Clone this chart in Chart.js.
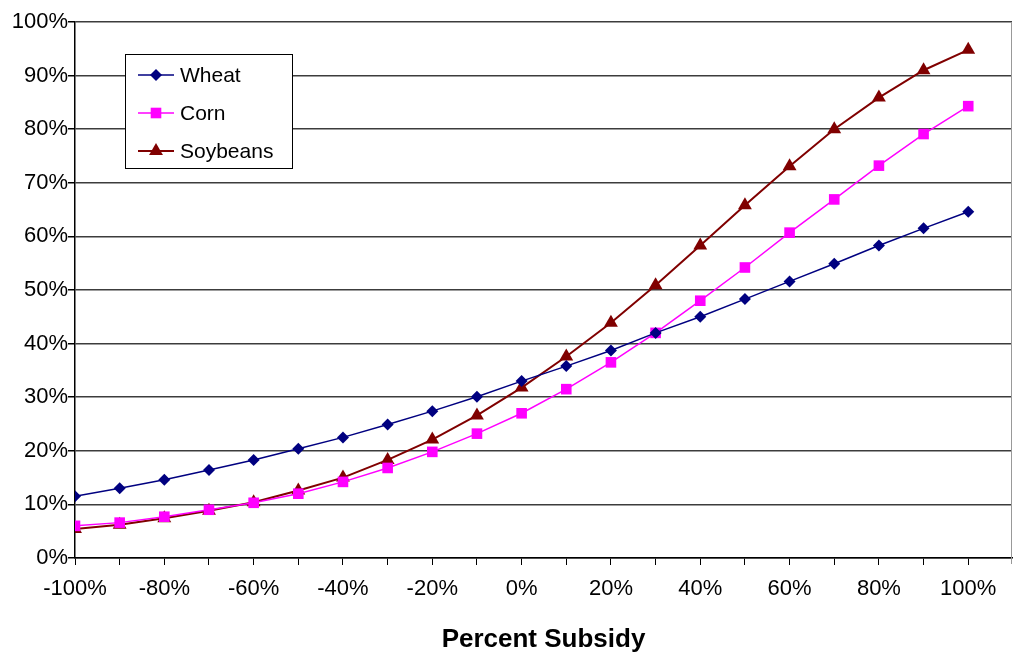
<!DOCTYPE html>
<html lang="en">

<head>
    <meta charset="UTF-8">
    <title>Percent Subsidy</title>
    <script src="https://cdn.jsdelivr.net/npm/chart.js"></script>
    <style>
        body {
            margin: 0;
            padding: 0;
            background-color: #fff;
        }

        .chart-container {
            width: 1013px;
            height: 658px;
        }
    </style>
</head>

<body>
    <div class="chart-container">
        <canvas id="subsidyChart"></canvas>
    </div>

    <script>
        // Data
        const subsidy = [-100, -90, -80, -70, -60, -50, -40, -30, -20, -10, 0, 10, 20, 30, 40, 50, 60, 70, 80, 90, 100];
        const wheat = [11.5, 13.0, 14.6, 16.4, 18.3, 20.4, 22.5, 24.9, 27.4, 30.1, 33.0, 35.8, 38.7, 42.0, 45.0, 48.3, 51.6, 54.9, 58.3, 61.5, 64.6];
        const corn = [6.0, 6.6, 7.7, 9.0, 10.3, 12.0, 14.2, 16.8, 19.8, 23.2, 27.0, 31.5, 36.5, 42.0, 48.0, 54.2, 60.7, 66.9, 73.2, 79.1, 84.3];
        const soybeans = [5.4, 6.2, 7.4, 8.8, 10.4, 12.6, 15.0, 18.3, 22.1, 26.6, 31.8, 37.6, 43.9, 50.9, 58.3, 65.8, 73.1, 80.0, 85.9, 91.0, 94.8];
        const xTicks = [-100, -90, -80, -70, -60, -50, -40, -30, -20, -10, 0, 10, 20, 30, 40, 50, 60, 70, 80, 90, 100];

        const FONT = 'Arial, "Liberation Sans", sans-serif';

        function toPoints(values) {
            return values.map((v, i) => ({ x: subsidy[i], y: v }));
        }

        // Legend box drawn inside the plot, like the original
        const boxLegend = {
            id: 'boxLegend',
            afterDraw(chart) {
                const ctx = chart.ctx;
                const area = chart.chartArea;
                ctx.save();
                // right frame of the plot
                ctx.strokeStyle = '#999';
                ctx.lineWidth = 1;
                ctx.beginPath();
                ctx.moveTo(area.right - 0.5, area.top);
                ctx.lineTo(area.right - 0.5, area.bottom + 6);
                ctx.stroke();

                ctx.fillStyle = '#fff';
                ctx.fillRect(125, 54, 167, 114);
                ctx.strokeStyle = '#000';
                ctx.strokeRect(125.5, 54.5, 167, 114);
                ctx.font = '21px ' + FONT;
                ctx.textBaseline = 'middle';
                chart.data.datasets.forEach((ds, i) => {
                    const y = 75 + i * 38;
                    ctx.strokeStyle = ds.borderColor;
                    ctx.lineWidth = ds.borderWidth;
                    ctx.beginPath();
                    ctx.moveTo(138, y);
                    ctx.lineTo(174, y);
                    ctx.stroke();
                    ctx.fillStyle = ds.pointBackgroundColor;
                    Chart.helpers.drawPoint(ctx, {
                        pointStyle: ds.pointStyle,
                        radius: ds.pointRadius,
                        rotation: 0,
                        borderWidth: 0
                    }, 156, y);
                    ctx.fillStyle = '#000';
                    ctx.fillText(ds.label, 180, y + 1);
                });
                ctx.restore();
            }
        };

        const ctx = document.getElementById('subsidyChart').getContext('2d');
        const subsidyChart = new Chart(ctx, {
            type: 'line',
            data: {
                datasets: [{
                    label: 'Wheat',
                    data: toPoints(wheat),
                    borderColor: '#000080',
                    backgroundColor: '#000080',
                    pointBackgroundColor: '#000080',
                    pointBorderWidth: 0,
                    borderWidth: 1.5,
                    pointStyle: 'rectRot',
                    pointRadius: 6,
                    fill: false
                }, {
                    label: 'Corn',
                    data: toPoints(corn),
                    borderColor: '#FF00FF',
                    backgroundColor: '#FF00FF',
                    pointBackgroundColor: '#FF00FF',
                    pointBorderWidth: 0,
                    borderWidth: 1.5,
                    pointStyle: 'rect',
                    pointRadius: 7.5,
                    fill: false
                }, {
                    label: 'Soybeans',
                    data: toPoints(soybeans),
                    borderColor: '#800000',
                    backgroundColor: '#800000',
                    pointBackgroundColor: '#800000',
                    pointBorderWidth: 0,
                    borderWidth: 2,
                    pointStyle: 'triangle',
                    pointRadius: 8,
                    fill: false
                }]
            },
            plugins: [boxLegend],
            options: {
                responsive: true,
                maintainAspectRatio: false,
                animation: false,
                layout: {
                    autoPadding: false,
                    padding: { top: 22, right: 1, left: 0, bottom: 0 }
                },
                plugins: {
                    legend: { display: false },
                    tooltip: { enabled: false }
                },
                scales: {
                    x: {
                        type: 'linear',
                        min: -100,
                        max: 109.8,
                        afterBuildTicks: scale => {
                            scale.ticks = xTicks.map(v => ({ value: v }));
                        },
                        afterFit: scale => {
                            scale.height = 100;
                            scale.paddingLeft = 0;
                            scale.paddingRight = 0;
                        },
                        grid: {
                            drawOnChartArea: false,
                            color: '#000',
                            tickLength: 7,
                            tickWidth: 1
                        },
                        border: { color: '#000', width: 1.5 },
                        ticks: {
                            autoSkip: false,
                            maxRotation: 0,
                            padding: 11,
                            color: '#000',
                            font: { family: FONT, size: 22 },
                            callback: v => (v % 20 === 0 ? v + '%' : '')
                        },
                        title: {
                            display: true,
                            text: 'Percent Subsidy',
                            color: '#000',
                            font: { family: FONT, size: 26, weight: 'bold' },
                            padding: { top: 0, bottom: 3 }
                        }
                    },
                    y: {
                        min: 0,
                        max: 100,
                        afterFit: scale => {
                            scale.width = 75;
                        },
                        grid: {
                            color: '#3c3c3c',
                            lineWidth: 1.5,
                            tickColor: '#000',
                            tickLength: 7
                        },
                        border: { color: '#000', width: 1.5 },
                        ticks: {
                            stepSize: 10,
                            padding: 0,
                            color: '#000',
                            font: { family: FONT, size: 22 },
                            callback: v => v + '%'
                        }
                    }
                }
            }
        });
    </script>
</body>

</html>
